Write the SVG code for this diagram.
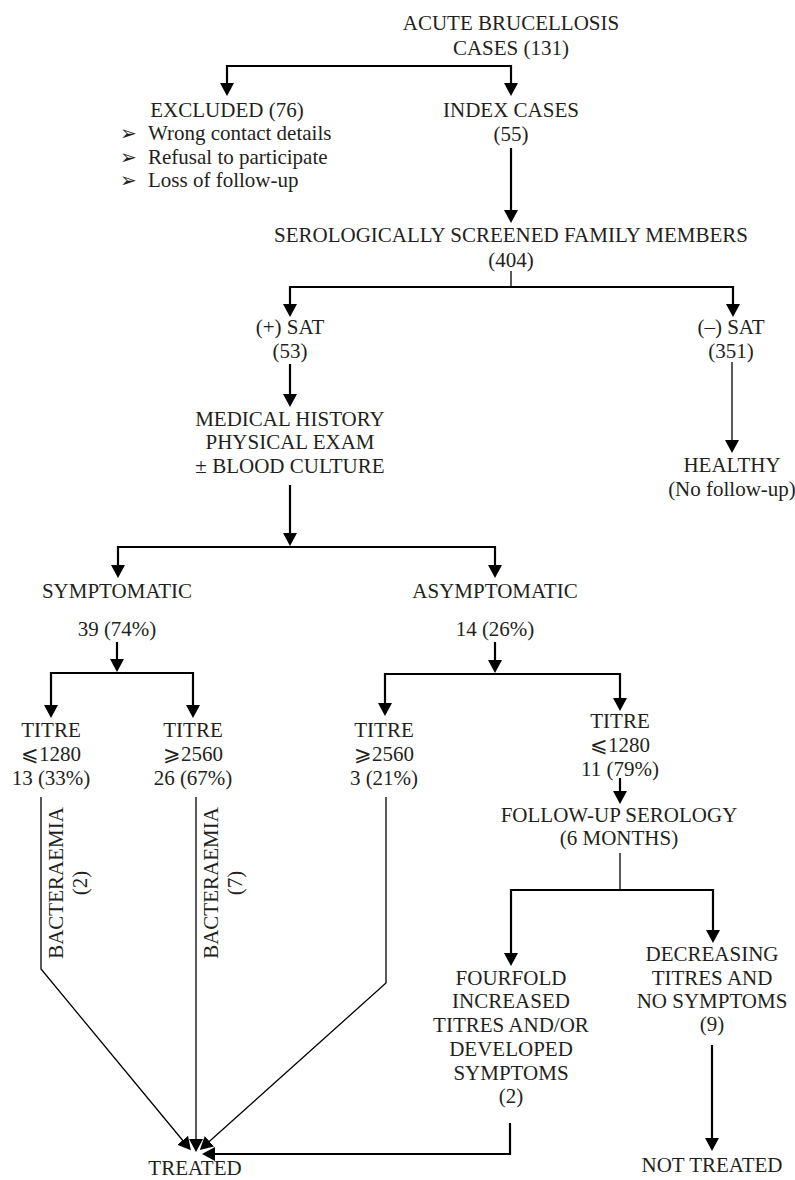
<svg xmlns="http://www.w3.org/2000/svg" width="795" height="1180" viewBox="0 0 795 1180">
<style>
text{font-family:"Liberation Serif","Times New Roman",serif;font-size:21px;fill:#231f20;text-anchor:middle}
text.l{text-anchor:start}
text.b{font-family:"DejaVu Sans",sans-serif;font-size:20px;text-anchor:start}
.thick{fill:none;stroke:#000;stroke-width:2.2}
.thin{fill:none;stroke:#000;stroke-width:1.3}
.arr{marker-end:url(#ah)}
</style>
<defs>
<marker id="ah" markerUnits="userSpaceOnUse" markerWidth="13" markerHeight="14" refX="10" refY="7" orient="auto" viewBox="0 0 13 14">
<path d="M0,0 L13,7 L0,14 z" fill="#000"/>
</marker>
</defs>
<rect width="795" height="1180" fill="#fff"/>
<g id="connectors">
<path class="thick arr" d="M300,66 H227 V93"/>
<path class="thick arr" d="M300,66 H511 V93"/>
<path class="thick arr" d="M511,148 V220"/>
<path class="thin" d="M511,271 V287"/>
<path class="thick arr" d="M511,287 H290 V314"/>
<path class="thick arr" d="M511,287 H733 V314"/>
<path class="thick arr" d="M290,364 V404"/>
<path class="thin arr" d="M732,362 V450"/>
<path class="thick arr" d="M290,485 V543"/>
<path class="thick arr" d="M300,547 H118 V575"/>
<path class="thick arr" d="M300,547 H495 V575"/>
<path class="thick arr" d="M117,642 V669"/>
<path class="thick arr" d="M117,673 H51 V715"/>
<path class="thick arr" d="M117,673 H193 V715"/>
<path class="thick arr" d="M495,642 V670"/>
<path class="thick arr" d="M495,674 H385 V713"/>
<path class="thick arr" d="M495,674 H620 V708"/>
<path class="thick arr" d="M620,778 V801"/>
<path class="thin" d="M620,853 V890"/>
<path class="thick arr" d="M620,890 H511 V963"/>
<path class="thick arr" d="M620,890 H713 V940"/>
<path class="thick arr" d="M712,1045 V1148"/>
<path class="thin arr" d="M41,797 V969 L189,1148"/>
<path class="thin arr" d="M196,797 V1149"/>
<path class="thin arr" d="M386,797 V983 L202,1148"/>
<path class="thick arr" d="M510,1123 V1154 H205"/>
<g id="edge-labels">
<text transform="translate(63,883) rotate(-90)">BACTERAEMIA</text>
<text transform="translate(87,883) rotate(-90)">(2)</text>
<text transform="translate(218,883) rotate(-90)">BACTERAEMIA</text>
<text transform="translate(242,883) rotate(-90)">(7)</text>
</g>
</g>
<g id="n-acute"><text x="511" y="30">ACUTE BRUCELLOSIS</text><text x="511" y="55">CASES (131)</text></g>
<g id="n-excluded"><text x="227" y="117">EXCLUDED (76)</text>
<text class="b" x="120" y="140">➢</text><text class="l" x="148" y="140">Wrong contact details</text>
<text class="b" x="120" y="164">➢</text><text class="l" x="148" y="164">Refusal to participate</text>
<text class="b" x="120" y="187">➢</text><text class="l" x="148" y="187">Loss of follow-up</text></g>
<g id="n-index"><text x="511" y="117">INDEX CASES</text><text x="511" y="141">(55)</text></g>
<g id="n-sero"><text x="511" y="242">SEROLOGICALLY SCREENED FAMILY MEMBERS</text><text x="511" y="267">(404)</text></g>
<g id="n-pos"><text x="290" y="334">(+) SAT</text><text x="290" y="358">(53)</text></g>
<g id="n-neg"><text x="731" y="334">(–) SAT</text><text x="731" y="358">(351)</text></g>
<g id="n-med"><text x="290" y="426">MEDICAL HISTORY</text><text x="290" y="449">PHYSICAL EXAM</text><text x="290" y="473">± BLOOD CULTURE</text></g>
<g id="n-healthy"><text x="732" y="472">HEALTHY</text><text x="732" y="496">(No follow-up)</text></g>
<g id="n-symp"><text x="117" y="598">SYMPTOMATIC</text><text x="117" y="636">39 (74%)</text></g>
<g id="n-asymp"><text x="495" y="598">ASYMPTOMATIC</text><text x="495" y="636">14 (26%)</text></g>
<g id="n-t1"><text x="51" y="737">TITRE</text><text x="51" y="761">⩽1280</text><text x="51" y="785">13 (33%)</text></g>
<g id="n-t2"><text x="193" y="737">TITRE</text><text x="193" y="761">⩾2560</text><text x="193" y="785">26 (67%)</text></g>
<g id="n-t3"><text x="384" y="737">TITRE</text><text x="384" y="761">⩾2560</text><text x="384" y="785">3 (21%)</text></g>
<g id="n-t4"><text x="620" y="728">TITRE</text><text x="620" y="752">⩽1280</text><text x="620" y="776">11 (79%)</text></g>
<g id="n-follow"><text x="619" y="822">FOLLOW-UP SEROLOGY</text><text x="619" y="845">(6 MONTHS)</text></g>
<g id="n-fourfold"><text x="511" y="985">FOURFOLD</text><text x="511" y="1008">INCREASED</text><text x="511" y="1032">TITRES AND/OR</text><text x="511" y="1056">DEVELOPED</text><text x="511" y="1080">SYMPTOMS</text><text x="511" y="1103">(2)</text></g>
<g id="n-decr"><text x="712" y="961">DECREASING</text><text x="712" y="985">TITRES AND</text><text x="712" y="1008">NO SYMPTOMS</text><text x="712" y="1031">(9)</text></g>
<g id="n-treated"><text x="195" y="1175">TREATED</text></g>
<g id="n-nottreated"><text x="712" y="1172">NOT TREATED</text></g>
</svg>
